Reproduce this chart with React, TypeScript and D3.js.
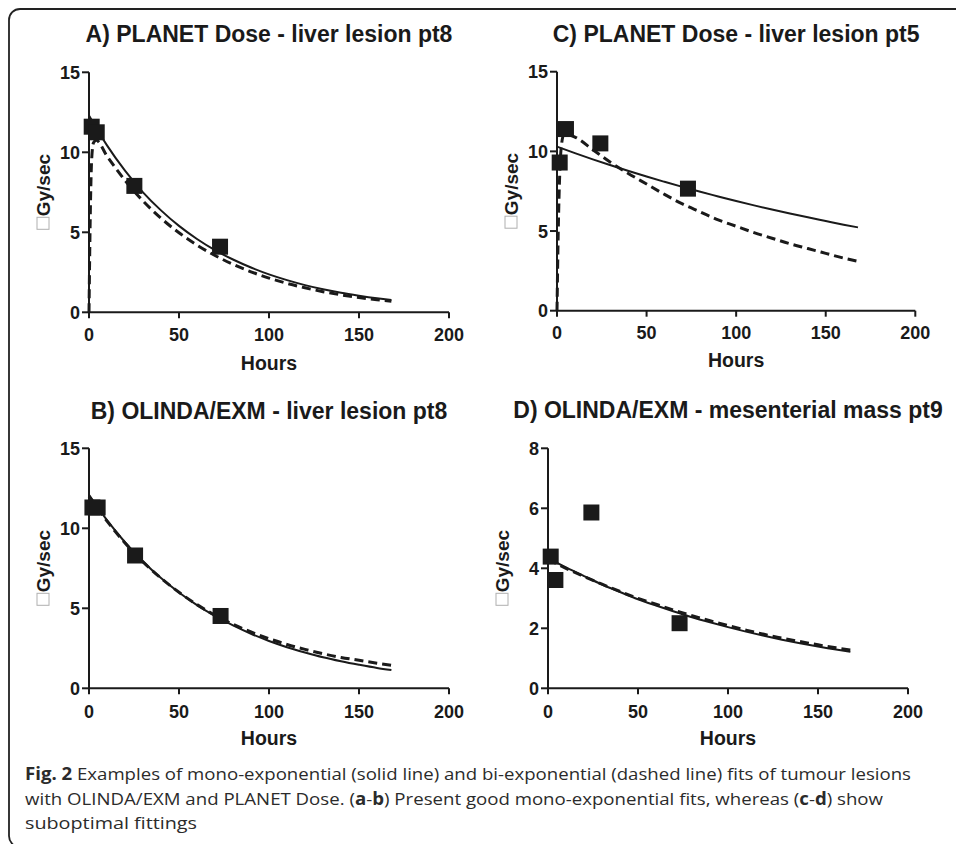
import React from "react";
import * as d3 from "d3";

// ---------- data ----------
const hourTicks = [0, 50, 100, 150, 200];
const doseTicks15 = [0, 5, 10, 15];
const doseTicks8 = [0, 2, 4, 6, 8];

const curveHours = [0, 10, 20, 30, 40, 50, 60, 70, 80, 90, 100, 110, 120, 130, 140, 150, 160, 168];
const riseHours = [0, 0.7, 1.5, 2.5, 4, 10, 20, 30, 40, 50, 60, 70, 80, 90, 100, 110, 120, 130, 140, 150, 160, 168];

// A) PLANET Dose - liver lesion pt8
const aPointHours = [1.5, 4.3, 25.2, 72.8];
const aPointDose = [11.6, 11.25, 7.9, 4.1];
const aSolid = [12.3, 10.43, 8.85, 7.5, 6.37, 5.4, 4.58, 3.88, 3.3, 2.8, 2.37, 2.01, 1.7, 1.44, 1.22, 1.04, 0.88, 0.77];
const aDashed = [0, 6, 9.6, 10.6, 10.75, 9.76, 8.25, 6.96, 5.88, 4.97, 4.2, 3.55, 3.0, 2.53, 2.14, 1.81, 1.53, 1.29, 1.09, 0.92, 0.78, 0.69];

// C) PLANET Dose - liver lesion pt5
const cPointHours = [1.5, 5.0, 24.2, 73.1];
const cPointDose = [9.3, 11.4, 10.5, 7.66];
const cSolid = [10.3, 9.89, 9.5, 9.13, 8.77, 8.42, 8.09, 7.77, 7.46, 7.17, 6.88, 6.61, 6.35, 6.1, 5.86, 5.63, 5.4, 5.23];
const cDashed = [0, 5, 8.5, 10.4, 11.1, 10.9, 10.1, 9.3, 8.6, 7.95, 7.3, 6.7, 6.2, 5.7, 5.3, 4.9, 4.55, 4.2, 3.9, 3.6, 3.3, 3.1];

// B) OLINDA/EXM - liver lesion pt8
const bPointHours = [1.9, 4.8, 25.6, 73.1];
const bPointDose = [11.3, 11.3, 8.3, 4.52];
const bSolid = [12.1, 10.51, 9.13, 7.93, 6.89, 5.99, 5.2, 4.52, 3.93, 3.41, 2.96, 2.57, 2.24, 1.94, 1.69, 1.47, 1.27, 1.14];
const bDashed = [12.0, 10.45, 9.08, 7.9, 6.88, 6.0, 5.23, 4.57, 4.0, 3.52, 3.1, 2.74, 2.43, 2.16, 1.93, 1.75, 1.57, 1.44];

// D) OLINDA/EXM - mesenterial mass pt9
const dPointHours = [1.5, 4.1, 24.1, 73.1];
const dPointDose = [4.39, 3.61, 5.86, 2.17];
const dSolid = [4.35, 4.03, 3.74, 3.46, 3.21, 2.97, 2.76, 2.56, 2.37, 2.2, 2.04, 1.89, 1.75, 1.62, 1.5, 1.39, 1.29, 1.22];
const dDashed = [4.3, 4.0, 3.73, 3.47, 3.23, 3.0, 2.8, 2.6, 2.42, 2.25, 2.09, 1.94, 1.8, 1.67, 1.56, 1.45, 1.35, 1.28];

const titles = [
  "A) PLANET Dose - liver lesion pt8",
  "C) PLANET Dose - liver lesion pt5",
  "B) OLINDA/EXM - liver lesion pt8",
  "D) OLINDA/EXM - mesenterial mass pt9",
];
const xAxisLabel = "Hours";
const yAxisLabel = "Gy/sec";

// ---------- layout ----------
const W = 956;
const H = 844;
const FONT = "'Liberation Sans', Arial, Helvetica, sans-serif";
const INK = "#1a1a1a";

type PanelCfg = {
  title: string;
  x0: number; x1: number; yTop: number; yBot: number;
  yMax: number; yTicks: number[];
  pT: number[]; pV: number[];
  sT: number[]; sV: number[];
  dT: number[]; dV: number[];
  titleY: number; tickY: number; hoursY: number;
};

const panels: PanelCfg[] = [
  { title: titles[0], x0: 89, x1: 449, yTop: 72.3, yBot: 312.3, yMax: 15, yTicks: doseTicks15,
    pT: aPointHours, pV: aPointDose, sT: curveHours, sV: aSolid, dT: riseHours, dV: aDashed,
    titleY: 42, tickY: 341, hoursY: 370 },
  { title: titles[1], x0: 557, x1: 915.3, yTop: 71.7, yBot: 310.7, yMax: 15, yTicks: doseTicks15,
    pT: cPointHours, pV: cPointDose, sT: curveHours, sV: cSolid, dT: riseHours, dV: cDashed,
    titleY: 41.7, tickY: 338.5, hoursY: 366.7 },
  { title: titles[2], x0: 89, x1: 449, yTop: 448.3, yBot: 688.3, yMax: 15, yTicks: doseTicks15,
    pT: bPointHours, pV: bPointDose, sT: curveHours, sV: bSolid, dT: curveHours, dV: bDashed,
    titleY: 419, tickY: 717.5, hoursY: 745 },
  { title: titles[3], x0: 548, x1: 908, yTop: 448.3, yBot: 688.3, yMax: 8, yTicks: doseTicks8,
    pT: dPointHours, pV: dPointDose, sT: curveHours, sV: dSolid, dT: curveHours, dV: dDashed,
    titleY: 418.3, tickY: 717.5, hoursY: 745 },
];

function Panel({ p }: { p: PanelCfg }) {
  const x = d3.scaleLinear().domain([0, 200]).range([p.x0, p.x1]);
  const y = d3.scaleLinear().domain([0, p.yMax]).range([p.yBot, p.yTop]);
  const line = d3
    .line<[number, number]>()
    .x((d) => x(d[0]))
    .y((d) => y(d[1]))
    .curve(d3.curveMonotoneX);
  const solid = line(p.sT.map((t, i) => [t, p.sV[i]] as [number, number])) || "";
  const dashed = line(p.dT.map((t, i) => [t, p.dV[i]] as [number, number])) || "";
  const cx = (p.x0 + p.x1) / 2;
  const cy = (p.yTop + p.yBot) / 2;
  const m = 16;
  return (
    <g>
      <text x={cx} y={p.titleY} textAnchor="middle" fontFamily={FONT} fontWeight="bold" fontSize={23} fill={INK}>
        {p.title}
      </text>
      {/* axes */}
      <line x1={p.x0} x2={p.x0} y1={p.yTop} y2={p.yBot} stroke={INK} strokeWidth={2} />
      <line x1={p.x0} x2={p.x1} y1={p.yBot} y2={p.yBot} stroke={INK} strokeWidth={2} />
      {p.yTicks.map((v) => (
        <g key={"y" + v}>
          <line x1={p.x0 - 7} x2={p.x0} y1={y(v)} y2={y(v)} stroke={INK} strokeWidth={2} />
          <text x={p.x0 - 9} y={y(v)} dy="0.36em" textAnchor="end" fontFamily={FONT} fontWeight="bold" fontSize={18} fill={INK}>
            {v}
          </text>
        </g>
      ))}
      {hourTicks.map((v) => (
        <g key={"x" + v}>
          <line x1={x(v)} x2={x(v)} y1={p.yBot} y2={p.yBot + 6} stroke={INK} strokeWidth={2} />
          <text x={x(v)} y={p.tickY} textAnchor="middle" fontFamily={FONT} fontWeight="bold" fontSize={18} fill={INK}>
            {v}
          </text>
        </g>
      ))}
      <text x={cx} y={p.hoursY} textAnchor="middle" fontFamily={FONT} fontWeight="bold" fontSize={19.5} fill={INK}>
        {xAxisLabel}
      </text>
      {/* y label with missing-glyph box */}
      <rect x={p.x0 - 52} y={cy + 25} width={12} height={12} fill="none" stroke="#b0b0b0" strokeWidth={1} />
      <text
        transform={`translate(${p.x0 - 39},${cy + 24}) rotate(-90)`}
        textAnchor="start"
        fontFamily={FONT}
        fontWeight="bold"
        fontSize={19}
        fill={INK}
      >
        {yAxisLabel}
      </text>
      {/* curves */}
      <path d={solid} fill="none" stroke={INK} strokeWidth={2} />
      <path d={dashed} fill="none" stroke={INK} strokeWidth={3} strokeDasharray="9,5" />
      {/* points */}
      {p.pT.map((t, i) => (
        <rect key={"p" + i} x={x(t) - m / 2} y={y(p.pV[i]) - m / 2} width={m} height={m} fill={INK} />
      ))}
    </g>
  );
}

const captionLine1Rest = " Examples of mono-exponential (solid line) and bi-exponential (dashed line) fits of tumour lesions";
const captionLine2a = "with OLINDA/EXM and PLANET Dose. (";
const captionLine2b = ") Present good mono-exponential fits, whereas (";
const captionLine2c = ") show";
const captionLine3 = "suboptimal fittings";

export default function App() {
  const capFont = "'Open Sans', 'Noto Sans', sans-serif";
  const capColor = "#2b2b2b";
  return (
    <svg width={W} height={H} style={{ position: "absolute", left: 0, top: 0, background: "#fff" }}>
      <rect x={0} y={0} width={W} height={H} fill="#fff" />
      <rect x={9} y={9} width={980} height={838} rx={11} ry={11} fill="none" stroke="#222" strokeWidth={1.8} />
      {panels.map((p, i) => (
        <Panel key={i} p={p} />
      ))}
      <g fontFamily={capFont} fontSize={17} fill={capColor}>
        <text x={25} y={780} textLength={886} lengthAdjust="spacingAndGlyphs">
          <tspan fontWeight="bold">Fig. 2</tspan>
          <tspan>{captionLine1Rest}</tspan>
        </text>
        <text x={25} y={804.5} textLength={858} lengthAdjust="spacingAndGlyphs">
          <tspan>{captionLine2a}</tspan>
          <tspan fontWeight="bold">a</tspan>
          <tspan>-</tspan>
          <tspan fontWeight="bold">b</tspan>
          <tspan>{captionLine2b}</tspan>
          <tspan fontWeight="bold">c</tspan>
          <tspan>-</tspan>
          <tspan fontWeight="bold">d</tspan>
          <tspan>{captionLine2c}</tspan>
        </text>
        <text x={25} y={829} textLength={172} lengthAdjust="spacingAndGlyphs">
          {captionLine3}
        </text>
      </g>
    </svg>
  );
}
